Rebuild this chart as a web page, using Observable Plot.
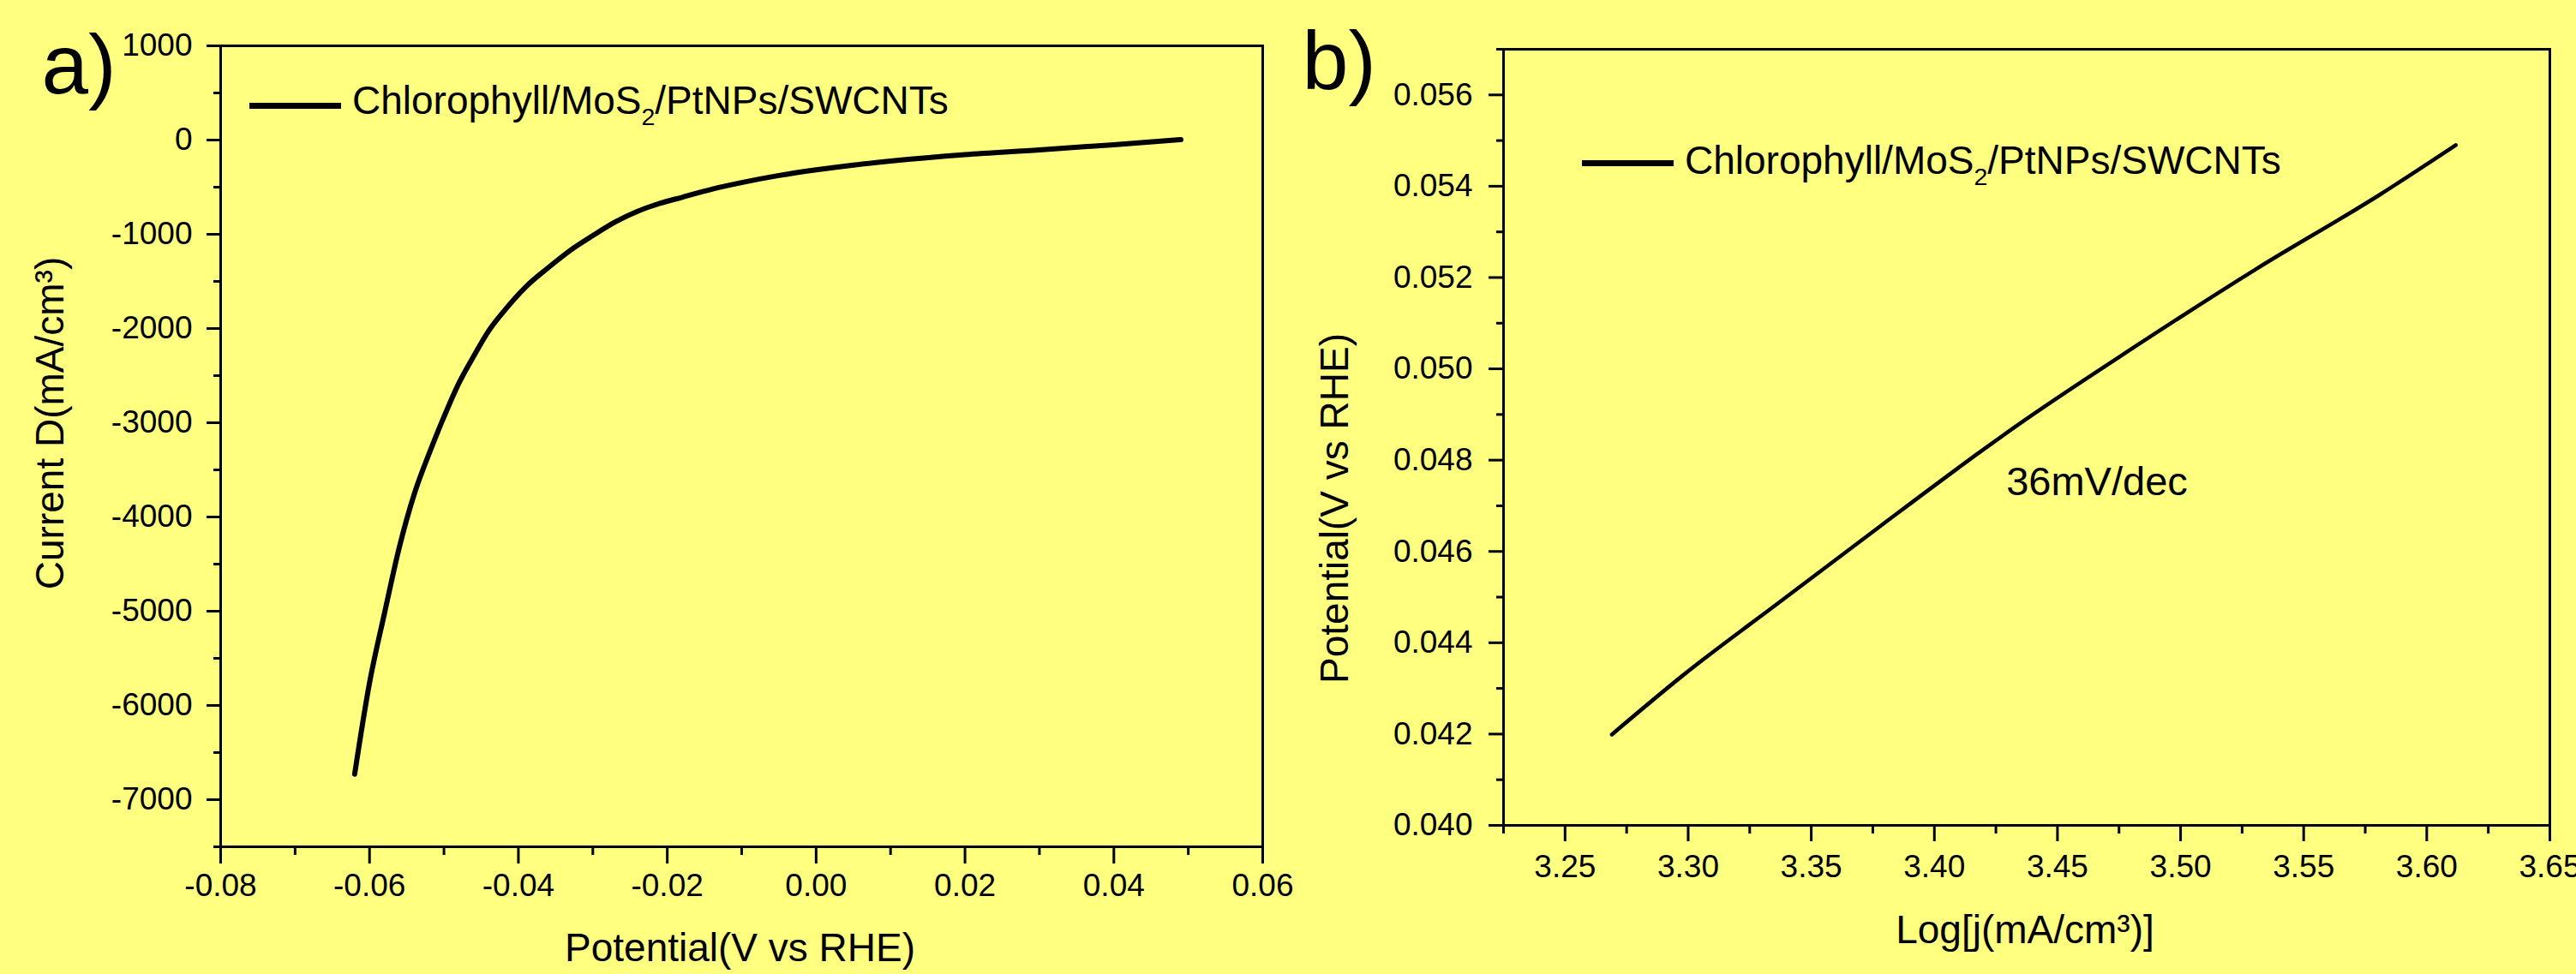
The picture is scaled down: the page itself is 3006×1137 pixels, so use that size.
<!DOCTYPE html>
<html>
<head>
<meta charset="utf-8">
<script src="https://cdn.jsdelivr.net/npm/d3@7"></script>
<script src="https://cdn.jsdelivr.net/npm/@observablehq/plot@0.6"></script>
<style>
  html, body { margin: 0; padding: 0; background: #ffff80; }
  #root { position: relative; width: 3006px; height: 1137px; overflow: hidden; background: #ffff80;
          font-family: "Liberation Sans", Arial, sans-serif; color: #000; }
  #root svg { position: absolute; top: 0; }
  .legend { position: absolute; white-space: nowrap; font-size: 46px; line-height: 46px; height: 46px; }
  .legend .swatch { position: absolute; height: 7px; background: #000; }
  .legend .lbl { position: absolute; top: 0; }
  .legend sub { font-size: 0.62em; vertical-align: -0.45em; line-height: 0; }
</style>
</head>
<body>
<div id="root"></div>
<script>
// ---------- Panel a: polarization curve ----------
const potentialA = [-0.062, -0.060, -0.058, -0.056, -0.054, -0.052, -0.050, -0.048, -0.046, -0.044,
  -0.042, -0.039, -0.036, -0.033, -0.030, -0.027, -0.024, -0.021, -0.018, -0.014, -0.010, -0.005,
  0.000, 0.005, 0.010, 0.020, 0.030, 0.040, 0.049];
const currentA = [-6730, -5760, -5025, -4322, -3759, -3329, -2938, -2581, -2293, -2026,
  -1821, -1557, -1355, -1169, -1014, -870, -756, -672, -607, -521, -451, -376,
  -316, -265, -223, -155, -105, -49, 5];
const xTicksA = [-0.08, -0.06, -0.04, -0.02, 0, 0.02, 0.04, 0.06];
const xMinorA = [-0.07, -0.05, -0.03, -0.01, 0.01, 0.03, 0.05];
const yTicksA = [1000, 0, -1000, -2000, -3000, -4000, -5000, -6000, -7000];
const yMinorA = [500, -500, -1500, -2500, -3500, -4500, -5500, -6500, -7500];

// ---------- Panel b: Tafel plot ----------
const logjB = [3.2690, 3.2982, 3.3381, 3.3779, 3.4178, 3.4320, 3.4816, 3.5311, 3.5808, 3.6118];
const potentialB = [0.04199, 0.04330, 0.04493, 0.04655, 0.04815, 0.04870, 0.05049, 0.05220, 0.05381, 0.05490];
const xTicksB = [3.25, 3.30, 3.35, 3.40, 3.45, 3.50, 3.55, 3.60, 3.65];
const xMinorB = [3.225, 3.275, 3.325, 3.375, 3.425, 3.475, 3.525, 3.575, 3.625];
const yTicksB = [0.040, 0.042, 0.044, 0.046, 0.048, 0.050, 0.052, 0.054, 0.056];
const yMinorB = [0.041, 0.043, 0.045, 0.047, 0.049, 0.051, 0.053, 0.055, 0.057];

const seriesName = "Chlorophyll/MoS<sub>2</sub>/PtNPs/SWCNTs";
const slopeLabel = "36mV/dec";
const slopeLabelPos = {x: 3.4292, y: 0.04723};

const dataA = potentialA.map((v, i) => ({x: v, y: currentA[i]}));
const dataB = logjB.map((v, i) => ({x: v, y: potentialB[i]}));

const FONT = "Liberation Sans, Arial, sans-serif";
const baseStyle = {background: "transparent", fontFamily: FONT, fontSize: "37px", color: "black", overflow: "visible"};

const plotA = Plot.plot({
  width: 1540, height: 1137,
  marginLeft: 257, marginRight: 67, marginTop: 53, marginBottom: 149,
  style: baseStyle,
  x: {domain: [-0.08, 0.06]},
  y: {domain: [-7500, 1000]},
  marks: [
    Plot.frame({stroke: "black", strokeWidth: 3}),
    Plot.axisX({ticks: xTicksA, tickSize: 20, tickPadding: 11, tickFormat: d => d.toFixed(2), label: null, strokeWidth: 3}),
    Plot.axisX({ticks: xMinorA, tickSize: 10, tickFormat: () => "", label: null, strokeWidth: 3}),
    Plot.axisY({ticks: yTicksA, tickSize: 16, tickPadding: 17, tickFormat: d => String(d), label: null, strokeWidth: 3}),
    Plot.axisY({ticks: yMinorA, tickSize: 8, tickFormat: () => "", label: null, strokeWidth: 3}),
    Plot.line(dataA, {x: "x", y: "y", stroke: "black", strokeWidth: 6, curve: "monotone-x"}),
    Plot.text(["a)"], {frameAnchor: "top-left", dx: -209, dy: 55, textAnchor: "start", lineAnchor: "bottom", fontSize: 98, fill: "black"}),
    Plot.text(["Potential(V vs RHE)"], {frameAnchor: "bottom", dx: -2, dy: 133, textAnchor: "middle", lineAnchor: "bottom", fontSize: 46, fill: "black"}),
    Plot.text(["Current D(mA/cm³)"], {frameAnchor: "left", rotate: -90, dx: -184, dy: -27, textAnchor: "middle", lineAnchor: "bottom", fontSize: 46, fill: "black"})
  ]
});
plotA.style.left = "0px";

const plotB = Plot.plot({
  width: 1526, height: 1137,
  marginLeft: 274, marginRight: 31, marginTop: 57, marginBottom: 174,
  style: baseStyle,
  x: {domain: [3.225, 3.65]},
  y: {domain: [0.040, 0.057]},
  marks: [
    Plot.frame({stroke: "black", strokeWidth: 3}),
    Plot.axisX({ticks: xTicksB, tickSize: 19, tickPadding: 15, tickFormat: d => d.toFixed(2), label: null, strokeWidth: 3}),
    Plot.axisX({ticks: xMinorB, tickSize: 10, tickFormat: () => "", label: null, strokeWidth: 3}),
    Plot.axisY({ticks: yTicksB, tickSize: 17, tickPadding: 19, tickFormat: d => d.toFixed(3), label: null, strokeWidth: 3}),
    Plot.axisY({ticks: yMinorB, tickSize: 8, tickFormat: () => "", label: null, strokeWidth: 3}),
    Plot.line(dataB, {x: "x", y: "y", stroke: "black", strokeWidth: 4.5, curve: "monotone-x"}),
    Plot.text([slopeLabel], {x: () => slopeLabelPos.x, y: () => slopeLabelPos.y, textAnchor: "start", lineAnchor: "bottom", fontSize: 47, fill: "black"}),
    Plot.text(["b)"], {frameAnchor: "top-left", dx: -235, dy: 46, textAnchor: "start", lineAnchor: "bottom", fontSize: 97, fill: "black"}),
    Plot.text(["Log[j(mA/cm³)]"], {frameAnchor: "bottom", dx: -2, dy: 137, textAnchor: "middle", lineAnchor: "bottom", fontSize: 46, fill: "black"}),
    Plot.text(["Potential(V vs RHE)"], {frameAnchor: "left", rotate: -90, dx: -182, dy: 83, textAnchor: "middle", lineAnchor: "bottom", fontSize: 46, fill: "black"})
  ]
});
plotB.style.left = "1480px";

const root = document.getElementById("root");
root.appendChild(plotA);
root.appendChild(plotB);

// Legends (overlaid inside each frame)
function addLegend(lineX1, lineX2, lineY, textX, baselineY) {
  const top = baselineY - 39; // baseline offset for 46px Liberation Sans with 46px line-height
  const div = document.createElement("div");
  div.className = "legend";
  div.style.left = "0px";
  div.style.top = top + "px";
  const sw = document.createElement("span");
  sw.className = "swatch";
  sw.style.left = lineX1 + "px";
  sw.style.width = (lineX2 - lineX1) + "px";
  sw.style.top = (lineY - top - 3.5) + "px";
  const lbl = document.createElement("span");
  lbl.className = "lbl";
  lbl.style.left = textX + "px";
  lbl.innerHTML = seriesName;
  div.appendChild(sw);
  div.appendChild(lbl);
  root.appendChild(div);
}
addLegend(291, 398, 123, 411, 133);
addLegend(1846, 1953, 190, 1966, 203);
</script>
</body>
</html>
